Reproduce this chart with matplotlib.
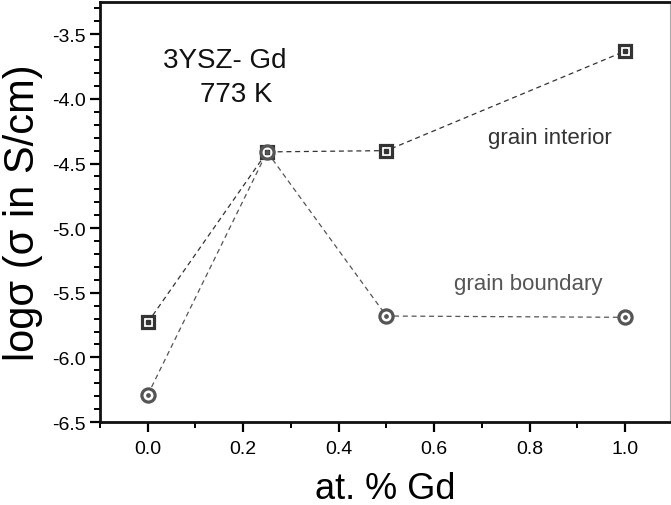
import matplotlib
matplotlib.use("Agg")
import matplotlib.pyplot as plt
from matplotlib.ticker import MultipleLocator

plt.rcParams['font.family'] = ['Liberation Sans', 'DejaVu Sans']

gd = [0.0, 0.25, 0.5, 1.0]
grain_interior = [-5.73, -4.41, -4.40, -3.63]
grain_boundary = [-6.29, -4.41, -5.68, -5.69]

fig = plt.figure(figsize=(6.71, 5.06), dpi=100)
ax = fig.add_axes([100/671, 1-423/506, 570/671, 420/506])

c_gi = '#333333'
c_gb = '#555555'
ax.plot(gd, grain_interior, ls=(0, (4, 3)), lw=0.9, color=c_gi,
        marker='s', ms=8.5, mfc='white', mec=c_gi, mew=2.3, zorder=3)
ax.plot(gd, grain_interior, ls='none', marker='s', ms=2.2, color=c_gi, zorder=4)
ax.plot(gd, grain_boundary, ls=(0, (4, 3)), lw=0.9, color=c_gb,
        marker='o', ms=9.5, mfc='white', mec=c_gb, mew=2.3, zorder=3)
ax.plot(gd, grain_boundary, ls='none', marker='o', ms=2.4, color=c_gb, zorder=4)

ax.set_xlim(-0.1, 1.094)
ax.set_ylim(-6.5, -3.25)
ax.xaxis.set_minor_locator(MultipleLocator(0.1))
ax.yaxis.set_minor_locator(MultipleLocator(0.1))
ax.set_xticks([0.0, 0.2, 0.4, 0.6, 0.8, 1.0])
ax.set_xticklabels(['0.0', '0.2', '0.4', '0.6', '0.8', '1.0'])
ax.set_yticks([-6.5, -6.0, -5.5, -5.0, -4.5, -4.0, -3.5])
ax.set_yticklabels(['-6.5', '-6.0', '-5.5', '-5.0', '-4.5', '-4.0', '-3.5'])

ax.tick_params(which='major', direction='out', length=7, width=1.6, labelsize=14, pad=6)
ax.tick_params(which='minor', direction='out', length=4.5, width=1.4)
ax.tick_params(axis='y', which='major', pad=3)

for s in ['left', 'top', 'bottom']:
    ax.spines[s].set_linewidth(2)
    ax.spines[s].set_color('#111111')
ax.spines['right'].set_linewidth(0.8)
ax.spines['right'].set_color('#aaaaaa')

ax.set_xlabel('at. % Gd', fontsize=26, labelpad=10)
ax.set_ylabel('logσ (σ in S/cm)', fontsize=30, labelpad=7)

ax.text(0.031, -3.70, '3YSZ- Gd', fontsize=20, ha='left', va='center', color='#111111')
ax.text(0.109, -3.96, '773 K', fontsize=20, ha='left', va='center', color='#111111')
ax.text(0.842, -4.30, 'grain interior', fontsize=16, ha='center', va='center', color='#333333')
ax.text(0.797, -5.43, 'grain boundary', fontsize=16, ha='center', va='center', color='#555555')

fig.savefig('out.png', dpi=100)
